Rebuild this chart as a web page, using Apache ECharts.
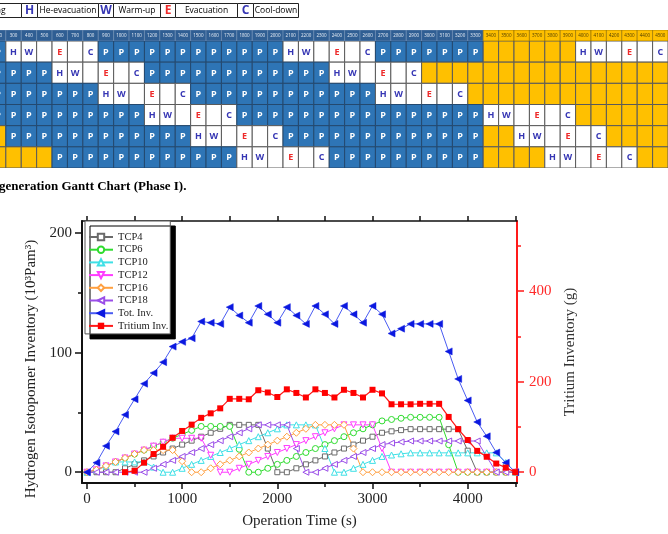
<!DOCTYPE html>
<html>
<head>
<meta charset="utf-8">
<script src="https://cdn.jsdelivr.net/npm/echarts@6/dist/echarts.min.js"></script>
<style>
html, body { margin: 0; padding: 0; background: #fff; }
#main { width: 668px; height: 534px; }
</style>
</head>
<body>
<div id="main"></div>
<script>
// operation time (s) of every point
var times = [0, 100, 200, 300, 400, 500, 600, 700, 800, 900,
    1000, 1100, 1200, 1300, 1400, 1500, 1600, 1700, 1800, 1900,
    2000, 2100, 2200, 2300, 2400, 2500, 2600, 2700, 2800, 2900,
    3000, 3100, 3200, 3300, 3400, 3500, 3600, 3700, 3800, 3900,
    4000, 4100, 4200, 4300, 4400, 4500];

// hydrogen isotopomer inventory, 10^3 Pa m^3
var tcp4 = [0, 0, 0, 0, 3.3, 6.6, 9.9, 13.2, 16.5, 19.8,
    23.1, 26.4, 29.7, 33, 36.3, 39.6, 39.6, 39.6, 39.6, 19.8,
    0, 0, 3.3, 6.6, 9.9, 13.2, 16.5, 19.8, 23.1, 26.4,
    29.7, 33, 34.2, 35.2, 36, 36, 36, 36, 36, 36,
    18, 0, 0, 0, 0, 0];
var tcp6 = [0, 2, 5.3, 8.6, 11.9, 15.2, 18.5, 21.8, 25.1, 28.4,
    31.7, 35, 38.3, 38.3, 38.3, 38.3, 19.2, 0, 0, 3.3,
    6.6, 9.9, 13.2, 16.5, 19.8, 23.1, 26.4, 29.7, 33, 36.3,
    39.6, 42.9, 44.1, 45.1, 45.9, 45.9, 45.9, 45.9, 23, 0,
    0, 0, 0, 0, 0, 0];
var tcp10 = [0, 2, 5.3, 8.6, 8.6, 8.6, 8.6, 4.3, 0, 0,
    3.3, 6.6, 9.9, 13.2, 16.5, 19.8, 23.1, 26.4, 29.7, 33,
    36.3, 39.6, 39.6, 39.6, 39.6, 19.8, 0, 0, 3.3, 6.6,
    9.9, 13.2, 14.4, 15.4, 16.2, 16.2, 16.2, 16.2, 16.2, 16.2,
    16.2, 16.2, 16.2, 16.2, 8.1, 0];
var tcp12 = [0, 2, 5.3, 8.6, 11.9, 15.2, 18.5, 21.8, 25.1, 28.4,
    28.4, 28.4, 28.4, 14.2, 0, 0, 3.3, 6.6, 9.9, 13.2,
    16.5, 19.8, 23.1, 26.4, 29.7, 33, 36.3, 39.6, 39.6, 39.6,
    39.6, 19.8, 0, 0, 0, 0, 0, 0, 0, 0,
    0, 0, 0, 0, 0, 0];
var tcp16 = [0, 2, 5.3, 8.6, 11.9, 15.2, 18.5, 18.5, 18.5, 18.5,
    9.2, 0, 0, 3.3, 6.6, 9.9, 13.2, 16.5, 19.8, 23.1,
    26.4, 29.7, 33, 36.3, 39.6, 39.6, 39.6, 39.6, 19.8, 0,
    0, 0, 0, 0, 0, 0, 0, 0, 0, 0,
    0, 0, 0, 0, 0, 0];
var tcp18 = [0, 0, 0, 0, 0, 0, 0, 3.3, 6.6, 9.9,
    13.2, 16.5, 19.8, 23.1, 26.4, 29.7, 33, 36.3, 39.6, 39.6,
    39.6, 39.6, 19.8, 0, 0, 3.3, 6.6, 9.9, 13.2, 16.5,
    19.8, 23.1, 24.3, 25.3, 26.1, 26.1, 26.1, 26.1, 26.1, 26.1,
    26.1, 26.1, 13, 0, 0, 0];
var totInv = [0, 8, 22, 34, 48, 61, 74, 83, 92, 105,
    109, 112, 126, 125, 124, 138, 131, 125, 139, 132,
    125, 138, 131, 124, 139, 132, 124, 139, 132, 125,
    139, 132, 116, 120, 124, 124, 124, 124, 101, 78,
    60, 42, 30, 16.5, 8, 0];
// tritium inventory, g
var tritiumInv = [null, null, null, null, 0, 3, 21, 40, 56, 76,
    91, 105, 120, 130, 141, 162, 162, 161, 181, 176,
    166, 183, 175, 165, 183, 175, 165, 182, 175, 165,
    182, 174, 150, 150, 150, 151, 151, 151, 122, 95,
    71, 47, 34, 19, 10, 0];

// regeneration gantt chart: one letter per 100 s column
var ganttCols = [200, 300, 400, 500, 600, 700, 800, 900, 1000, 1100,
    1200, 1300, 1400, 1500, 1600, 1700, 1800, 1900, 2000, 2100,
    2200, 2300, 2400, 2500, 2600, 2700, 2800, 2900, 3000, 3100,
    3200, 3300, 3400, 3500, 3600, 3700, 3800, 3900, 4000, 4100,
    4200, 4300, 4400, 4500];
var ganttRows = [
    'PHW_E_CPPPPPPPPPPPPHW_E_CPPPPPPPYYYYYYHW_E_C',
    'PPPPHW_E_CPPPPPPPPPPPPHW_E_CYYYYYYYYYYYYYYYY',
    'PPPPPPPHW_E_CPPPPPPPPPPPPHW_E_CYYYYYYYYYYYYY',
    'PPPPPPPPPPHW_E_CPPPPPPPPPPPPPPPPHW_E_CYYYYYY',
    'YPPPPPPPPPPPPHW_E_CPPPPPPPPPPPPPYYHW_E_CYYYY',
    'YYYYPPPPPPPPPPPPHW_E_CPPPPPPPPPPYYYYHW_E_CYY'
];
var ganttYellowFrom = 3400;

var dom = document.getElementById('main');
var myChart = echarts.init(dom);
var option = null;

var serif = 'Liberation Serif';
var sans = 'Open Sans';

function pairs(vals) {
    return times.map(function (t, i) { return [t, vals[i]]; });
}

function plain(v) { return String(v); }

function tcpSeries(name, vals, color, symbol, rotate, size) {
    return {
        name: name,
        type: 'line',
        data: pairs(vals),
        symbol: symbol,
        symbolRotate: rotate,
        symbolSize: size,
        showSymbol: true,
        lineStyle: { color: color, width: 1 },
        itemStyle: { color: '#fff', borderColor: color, borderWidth: 1 },
        emphasis: { disabled: true },
        z: 3
    };
}

var ganttCells = [];
ganttRows.forEach(function (row, r) {
    for (var i = 0; i < row.length; i++) {
        ganttCells.push([ganttCols[i], r]);
    }
});
var headerCells = ganttCols.map(function (t) { return [t, 0]; });

var letterColor = { H: '#3636b4', W: '#3636b4', C: '#3636b4', E: '#ee2a2a', P: '#ffffff' };
var cellFill = { P: '#2e75b6', Y: '#ffc000' };

function renderBody(params, api) {
    var t = api.value(0), r = api.value(1);
    var code = ganttRows[r].charAt(ganttCols.indexOf(t));
    var p0 = api.coord([t - 50, r]);
    var p1 = api.coord([t + 50, r + 1]);
    var fill = cellFill[code] || '#ffffff';
    var children = [{
        type: 'rect',
        shape: { x: p0[0], y: p0[1], width: p1[0] - p0[0], height: p1[1] - p0[1] },
        style: { fill: fill, stroke: code === 'P' ? '#24496f' : '#5a5a5a', lineWidth: 1 }
    }];
    if (letterColor[code]) {
        children.push({
            type: 'text',
            style: {
                text: code, x: (p0[0] + p1[0]) / 2, y: (p0[1] + p1[1]) / 2 + 0.5,
                align: 'center', verticalAlign: 'middle',
                fill: letterColor[code], font: 'bold 9px ' + sans
            }
        });
    }
    return { type: 'group', children: children };
}

function renderHeader(params, api) {
    var t = api.value(0);
    var p0 = api.coord([t - 50, 0]);
    var p1 = api.coord([t + 50, 1]);
    var yellow = t >= ganttYellowFrom;
    return {
        type: 'group',
        children: [{
            type: 'rect',
            shape: { x: p0[0], y: p0[1], width: p1[0] - p0[0], height: p1[1] - p0[1] },
            style: { fill: yellow ? '#ffc000' : '#2f5e93', stroke: yellow ? '#8a6a00' : '#6f8fb6', lineWidth: 0.6 }
        }, {
            type: 'text',
            style: {
                text: String(t), x: (p0[0] + p1[0]) / 2, y: (p0[1] + p1[1]) / 2,
                align: 'center', verticalAlign: 'middle',
                fill: yellow ? '#4a3a00' : '#e8eef6', font: '4.5px ' + sans
            }
        }]
    };
}

// key boxes above the gantt chart
var keyBoxes = [
    { x0: -60, x1: 21, text: 'Pumping', color: '#000', bold: false, right: true },
    { x0: 21, x1: 37, text: 'H', color: '#3636b4', bold: true },
    { x0: 37, x1: 98, text: 'He-evacuation', color: '#000', bold: false },
    { x0: 98, x1: 113, text: 'W', color: '#3636b4', bold: true },
    { x0: 113, x1: 160, text: 'Warm-up', color: '#000', bold: false },
    { x0: 160, x1: 175, text: 'E', color: '#ee2a2a', bold: true },
    { x0: 175, x1: 237, text: 'Evacuation', color: '#000', bold: false },
    { x0: 237, x1: 253, text: 'C', color: '#3636b4', bold: true },
    { x0: 253, x1: 298, text: 'Cool-down', color: '#000', bold: false }
];
var keyGraphics = [];
keyBoxes.forEach(function (b) {
    keyGraphics.push({
        type: 'rect', shape: { x: b.x0 + 0.5, y: 3.5, width: b.x1 - b.x0, height: 14 },
        style: { fill: '#fff', stroke: '#222', lineWidth: 1 }
    });
    keyGraphics.push({
        type: 'text',
        x: b.right ? 5.5 : (b.x0 + b.x1) / 2 + 0.5, y: 10.5,
        style: {
            text: b.text, fill: b.color,
            font: (b.bold ? 'bold 12px ' : '8.5px ') + sans,
            align: b.right ? 'right' : 'center', verticalAlign: 'middle'
        }
    });
});
keyGraphics.push({
    type: 'text', x: -1, y: 187,
    style: {
        text: 'generation Gantt Chart (Phase I).', fill: '#000',
        font: 'bold 13px ' + serif, verticalAlign: 'middle'
    }
});

option = {
    backgroundColor: '#fff',
    animation: false,
    textStyle: { fontFamily: serif },
    grid: [
        { left: 82, top: 221, width: 435, height: 262 },
        { left: 0, top: 30, width: 668, height: 11 },
        { left: 0, top: 41, width: 668, height: 127 }
    ],
    legend: {
        orient: 'vertical',
        left: 85,
        top: 221,
        padding: [10, 2, 2, 3],
        itemGap: 0.7,
        itemWidth: 24,
        itemHeight: 8,
        backgroundColor: '#fff',
        borderColor: '#555',
        borderWidth: 1,
        shadowColor: '#000',
        shadowBlur: 0,
        shadowOffsetX: 5,
        shadowOffsetY: 5,
        textStyle: { fontFamily: serif, fontSize: 10.5, color: '#222', lineHeight: 12 },
        data: ['TCP4', 'TCP6', 'TCP10', 'TCP12', 'TCP16', 'TCP18', 'Tot. Inv.', 'Tritium Inv.']
    },
    xAxis: [
        {
            gridIndex: 0, type: 'value', min: -52, max: 4518, position: 'bottom',
            name: 'Operation Time (s)', nameLocation: 'middle', nameGap: 31,
            nameTextStyle: { fontFamily: serif, fontSize: 15, color: '#222' },
            axisLine: { onZero: false, lineStyle: { color: '#111', width: 2 } },
            axisTick: { inside: false, length: 6, customValues: [0, 1000, 2000, 3000, 4000], lineStyle: { color: '#111', width: 1.5 } },
            axisLabel: { margin: 9, fontSize: 15, color: '#222', fontFamily: serif, formatter: plain, customValues: [0, 1000, 2000, 3000, 4000] },
            splitLine: { show: false }
        },
        {
            gridIndex: 0, type: 'value', min: -52, max: 4518, position: 'bottom',
            axisLine: { show: false, onZero: false },
            axisTick: { inside: false, length: 4, customValues: [500, 1500, 2500, 3500, 4500], lineStyle: { color: '#111', width: 1.5 } },
            axisLabel: { show: false },
            splitLine: { show: false }
        },
        {
            gridIndex: 0, type: 'value', min: -52, max: 4518, position: 'top',
            axisLine: { onZero: false, lineStyle: { color: '#111', width: 1.5 } },
            axisTick: { inside: false, length: 5, customValues: [0, 500, 1000, 1500, 2000, 2500, 3000, 3500, 4000, 4500], lineStyle: { color: '#111', width: 1.5 } },
            axisLabel: { show: false },
            splitLine: { show: false }
        },
        {
            gridIndex: 1, type: 'value', min: 212, max: 4550, show: false
        },
        {
            gridIndex: 2, type: 'value', min: 212, max: 4550, show: false
        }
    ],
    yAxis: [
        {
            gridIndex: 0, type: 'value', min: -9, max: 210, position: 'left',
            name: 'Hydrogen Isotopomer Inventory (10³Pam³)', nameLocation: 'middle', nameGap: 38,
            nameTextStyle: { fontFamily: serif, fontSize: 15, color: '#222', padding: [0, 34, 0, 0] },
            axisLine: { show: true, onZero: false, lineStyle: { color: '#111', width: 2 } },
            axisTick: { show: true, inside: false, length: 7, customValues: [0, 100, 200], lineStyle: { color: '#111', width: 1.5 } },
            axisLabel: { margin: 10, fontSize: 15, color: '#222', fontFamily: serif, formatter: plain, customValues: [0, 100, 200] },
            splitLine: { show: false }
        },
        {
            gridIndex: 0, type: 'value', min: -24, max: 555, position: 'right',
            name: 'Tritium Inventory (g)', nameLocation: 'middle', nameGap: 38,
            nameTextStyle: { fontFamily: serif, fontSize: 15, color: '#333' },
            axisLine: { show: true, onZero: false, lineStyle: { color: '#ff1a1a', width: 2 } },
            axisTick: { show: true, inside: false, length: 7, customValues: [0, 200, 400], lineStyle: { color: '#ff1a1a', width: 1.5 } },
            axisLabel: { margin: 12, fontSize: 15, color: '#ff2a2a', fontFamily: serif, formatter: plain, customValues: [0, 200, 400] },
            splitLine: { show: false }
        },
        {
            gridIndex: 0, type: 'value', min: -9, max: 210, position: 'left',
            axisLine: { show: false, onZero: false },
            axisTick: { show: true, inside: false, length: 4, customValues: [50, 150], lineStyle: { color: '#111', width: 1.5 } },
            axisLabel: { show: false },
            splitLine: { show: false }
        },
        {
            gridIndex: 0, type: 'value', min: -24, max: 555, position: 'right',
            axisLine: { show: false, onZero: false },
            axisTick: { show: true, inside: false, length: 4, customValues: [100, 300, 500], lineStyle: { color: '#ff1a1a', width: 1.5 } },
            axisLabel: { show: false },
            splitLine: { show: false }
        },
        {
            gridIndex: 1, type: 'value', min: 0, max: 1, inverse: true, show: false
        },
        {
            gridIndex: 2, type: 'value', min: 0, max: 6, inverse: true, show: false
        }
    ],
    graphic: keyGraphics,
    series: [
        tcpSeries('TCP4', tcp4, '#6a6a6a', 'rect', 0, 5),
        tcpSeries('TCP6', tcp6, '#2fdc2f', 'circle', 0, 6),
        tcpSeries('TCP10', tcp10, '#3fe0e6', 'triangle', 0, 6),
        tcpSeries('TCP12', tcp12, '#ff3cff', 'triangle', 180, 6),
        tcpSeries('TCP16', tcp16, '#ffa040', 'diamond', 0, 7),
        tcpSeries('TCP18', tcp18, '#9a4ee8', 'triangle', 90, 6),
        {
            name: 'Tot. Inv.', type: 'line', data: pairs(totInv),
            symbol: 'triangle', symbolRotate: 90, symbolSize: 7,
            lineStyle: { color: '#4a5cf2', width: 1 },
            itemStyle: { color: '#0b18e0', borderColor: '#0b18e0', borderWidth: 0.5 },
            emphasis: { disabled: true }, z: 4
        },
        {
            name: 'Tritium Inv.', type: 'line', yAxisIndex: 1, data: pairs(tritiumInv),
            symbol: 'rect', symbolSize: 6,
            lineStyle: { color: '#ff1a1a', width: 1.2 },
            itemStyle: { color: '#ff0000', borderColor: '#ff0000', borderWidth: 0 },
            emphasis: { disabled: true }, z: 5
        },
        {
            type: 'custom', xAxisIndex: 3, yAxisIndex: 4, clip: true, silent: true,
            renderItem: renderHeader, data: headerCells
        },
        {
            type: 'custom', xAxisIndex: 4, yAxisIndex: 5, clip: true, silent: true,
            renderItem: renderBody, data: ganttCells
        }
    ]
};

if (option && typeof option === 'object') {
    myChart.setOption(option, true);
}
</script>
</body>
</html>
